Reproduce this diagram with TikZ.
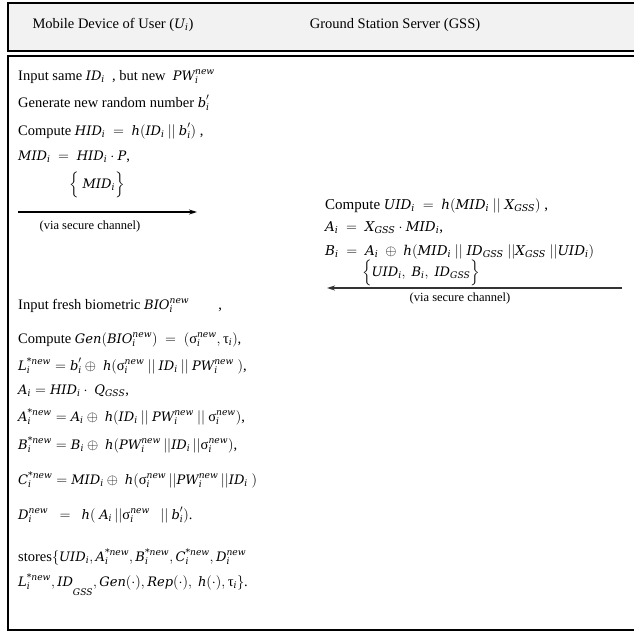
\documentclass[tikz,border=0pt]{standalone}
\usepackage{amsmath}
\usepackage{fontspec}
\setmainfont{Liberation Serif}
\newfontfamily\mathletters{DejaVu Serif}[Scale=0.9]
\newcommand{\mv}[1]{\text{\mathletters\itshape #1}}
\newcommand{\ii}{\mv{i}}
\newcommand{\nw}{\mv{new}}
\newcommand{\snw}{\mv{*new}}
\newcommand{\gss}{\mv{GSS}}
\newcommand{\sg}{\text{σ}}
\newcommand{\ta}{\text{τ}}
\newcommand{\cc}{\mathbin{||}}
\usetikzlibrary{arrows.meta}
\begin{document}
\begin{tikzpicture}[x=1pt,y=-1pt,
  line/.style={anchor=base west, inner sep=0pt, font=\fontsize{14.5}{16}\selectfont},
  rline/.style={line, font=\fontsize{15}{17}\selectfont},
  ctr/.style={anchor=base, inner sep=0pt, font=\fontsize{14.5}{16}\selectfont},
  note/.style={anchor=base, inner sep=0pt, font=\fontsize{12.5}{14}\selectfont},
  head/.style={anchor=base, inner sep=0pt, font=\fontsize{14.5}{16}\selectfont},
  frame/.style={line width=1.5pt},
  msg/.style={line width=1.4pt, -{Stealth[length=8pt,width=5pt]}}]
\useasboundingbox (0,0) rectangle (634,633);
\fill[white] (0,0) rectangle (634,633);
\draw[frame, fill=black!5] (8,3) rectangle (640,51);
\draw[frame] (8,56) rectangle (640,630);
\node[head] (hu) at (113,28) {Mobile Device of User ($\mv{U}_{\ii}$)};
\node[head] (hg) at (395,28) {Ground Station Server (GSS)};
% left upper
\node[line] (l1) at (18,80) {Input same $\mv{ID}_\ii$\ \ , but new\ \ $\mv{PW}_\ii^{\nw}$};
\node[line] (l2) at (18,107) {Generate new random number $\mv{b}_\ii^{\prime}$};
\node[line] (l3) at (18,135) {Compute $\mv{HID}_\ii\ =\ \mv{h}(\mv{ID}_\ii \cc \mv{b}_\ii^{\prime})$ ,};
\node[line] (l4) at (18,160) {$\mv{MID}_\ii\ =\ \mv{HID}_\ii \cdot \mv{P}$,};
\node[ctr] (m1) at (97,188) {$\Big\{\ \mv{MID}_\ii\Big\}$};
\coordinate (a1s) at (18,212);
\coordinate (a1e) at (197,212);
\draw[msg] (a1s) -- (a1e);
\node[note] (v1) at (90,229) {(via secure channel)};
% right
\node[rline] (r1) at (325,209) {Compute $\mv{UID}_\ii\ =\ \mv{h}(\mv{MID}_\ii\ ||\ \mv{X}_\gss)$\ ,};
\node[rline] (r2) at (325,231) {$\mv{A}_\ii\ =\ \mv{X}_\gss \cdot \mv{MID}_\ii$,};
\node[rline] (r3) at (325,255) {$\mv{B}_\ii\ =\ \mv{A}_\ii\ \oplus\ \mv{h}(\mv{MID}_\ii\ ||\ \mv{ID}_\gss\ ||\mv{X}_\gss\ ||\mv{UID}_\ii)$};
\node[ctr] (m2) at (421,276) {$\Big\{\mv{UID}_\ii,\ \mv{B}_\ii,\ \mv{ID}_\gss\Big\}$};
\coordinate (a2s) at (622,288);
\coordinate (a2e) at (327,288);
\draw[msg, draw=black!80] (a2s) -- (a2e);
\node[note] (v2) at (460,301) {(via secure channel)};
% left lower
\node[line] (l5) at (18,309) {Input fresh biometric $\mv{BIO}_\ii^{\nw}$\qquad,};
\node[line] (l6) at (18,343) {Compute $\mv{Gen}(\mv{BIO}_\ii^{\nw})\ =\ (\sg_\ii^{\nw}, \ta_\ii)$,};
\node[line] (l7) at (18,370) {$\mv{L}_\ii^{\snw} = \mv{b}_\ii^{\prime} \oplus\ \mv{h}(\sg_\ii^{\nw} \cc \mv{ID}_\ii \cc \mv{PW}_\ii^{\nw}\ )$,};
\node[line] (l8) at (18,394) {$\mv{A}_\ii = \mv{HID}_\ii\cdot\ \mv{Q}_\gss$,};
\node[line] (l9) at (18,421) {$\mv{A}_\ii^{\snw} = \mv{A}_\ii \oplus\ \mv{h}(\mv{ID}_\ii \cc \mv{PW}_\ii^{\nw} \cc \sg_\ii^{\nw})$,};
\node[line] (l10) at (18,449) {$\mv{B}_\ii^{\snw} = \mv{B}_\ii \oplus\ \mv{h}(\mv{PW}_\ii^{\nw} \,||\mv{ID}_\ii \,||\sg_\ii^{\nw})$,};
\node[line] (l11) at (18,484) {$\mv{C}_\ii^{\snw} = \mv{MID}_\ii \oplus\ \mv{h}(\sg_\ii^{\nw} \,||\mv{PW}_\ii^{\nw} \,||\mv{ID}_\ii\ )$};
\node[line] (l12) at (18,519) {$\mv{D}_\ii^{\nw}\ \ =\ \ \mv{h}(\ \mv{A}_\ii \,||\sg_\ii^{\nw}\ \ \cc \mv{b}_\ii^{\prime})$.};
\node[line] (l13) at (18,561) {stores$\{\mv{UID}_\ii, \mv{A}_\ii^{\snw}, \mv{B}_\ii^{\snw}, \mv{C}_\ii^{\snw}, \mv{D}_\ii^{\nw}$};
\node[line] (l14) at (18,586) {$\mv{L}_\ii^{\snw}, \mv{ID}_{\lower7pt\hbox{$\scriptstyle\gss$}}, \mv{Gen}(\cdot), \mv{Rep}(\cdot),\ \mv{h}(\cdot), \ta_\ii\}$.};
\end{tikzpicture}
\end{document}
